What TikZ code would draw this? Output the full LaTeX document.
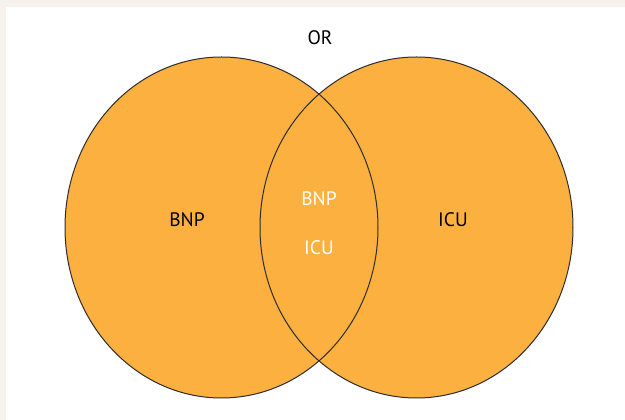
\documentclass[tikz,border=0pt]{standalone}
\usepackage{fontspec}
\setmainfont{PT Sans}
\usepackage{tikz}
\usepackage{color}

\definecolor{vennorange}{RGB}{251,176,64}
\definecolor{pagebeige}{RGB}{247,241,236}
\definecolor{rimgray}{RGB}{45,45,45}

\begin{document}
\begin{tikzpicture}[x=1pt,y=1pt,
  venn/.style={fill=vennorange},
  rim/.style={rimgray, line width=1pt},
  lbl/.style={anchor=base, font=\fontsize{19.5}{19.5}\selectfont, inner sep=0pt}]

% page background
\fill[pagebeige] (0,0) rectangle (625,420);
\fill[white] (6,0) rectangle (625,413);
\useasboundingbox (0,0) rectangle (625,420);

\coordinate (bnp) at (221.5,192.5);
\coordinate (icu) at (416.5,192.5);

\fill[venn] (bnp) ellipse (156.5 and 170.5);
\fill[venn] (icu) ellipse (156.5 and 170.5);
\draw[rim] (bnp) ellipse (156.5 and 170.5);
\draw[rim] (icu) ellipse (156.5 and 170.5);

\node[lbl] (or) at (320,375) {OR};
\node[lbl] (bnpleft) at (187,193) {BNP};
\node[lbl] (icuright) at (453,193) {ICU};
\node[lbl, white] (bnpboth) at (319,214) {BNP};
\node[lbl, white] (icuboth) at (319,165) {ICU};
\end{tikzpicture}
\end{document}
